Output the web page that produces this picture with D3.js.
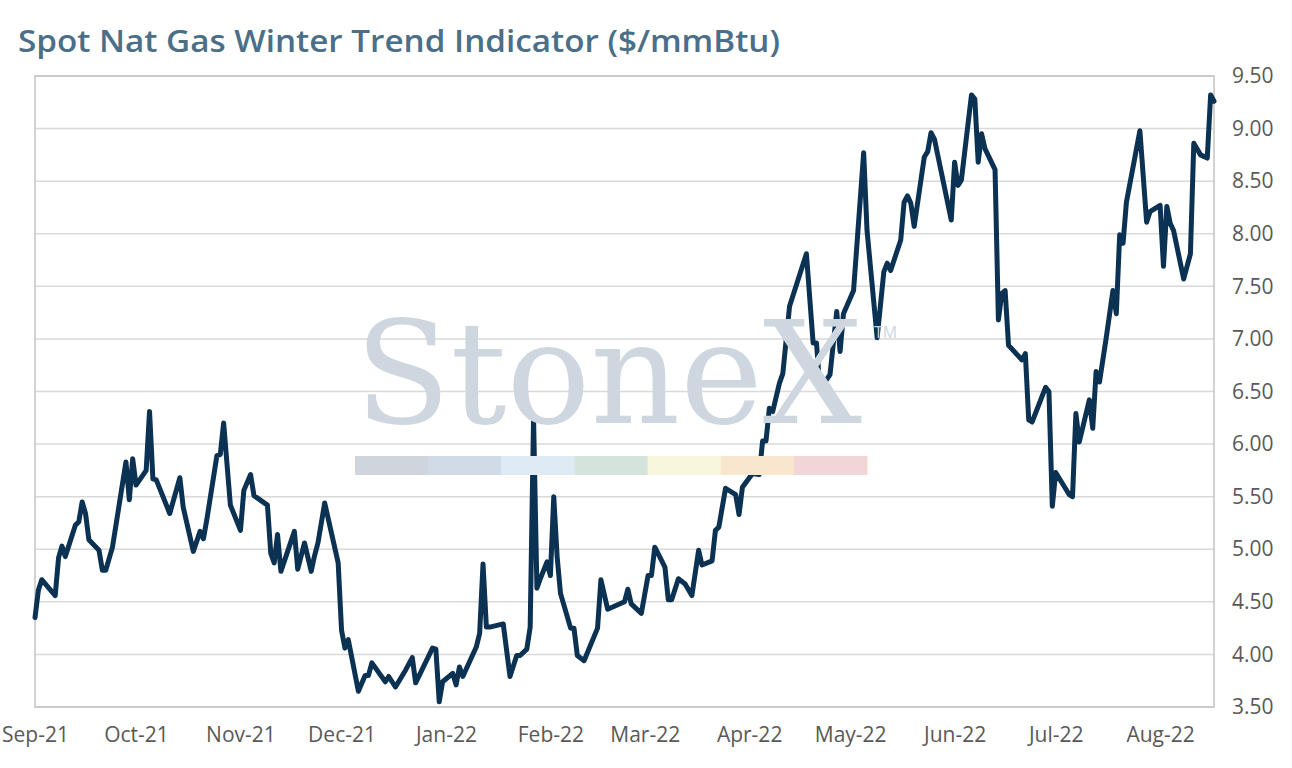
<!DOCTYPE html>
<html>
<head>
<meta charset="utf-8">
<script src="https://cdnjs.cloudflare.com/ajax/libs/d3/7.8.5/d3.min.js"></script>
<style>
  html, body { margin: 0; padding: 0; background: #fff; }
  svg { display: block; }
</style>
</head>
<body>
<div id="chart"></div>
<script>
'use strict';

// values
var dates = [
  '2021-09-01','2021-09-02','2021-09-03','2021-09-07','2021-09-08','2021-09-09','2021-09-10','2021-09-13',
  '2021-09-14','2021-09-15','2021-09-16','2021-09-17','2021-09-20','2021-09-21','2021-09-22','2021-09-24',
  '2021-09-28','2021-09-29','2021-09-30','2021-10-01','2021-10-04','2021-10-05','2021-10-06','2021-10-07',
  '2021-10-11','2021-10-14','2021-10-15','2021-10-18','2021-10-20','2021-10-21','2021-10-22','2021-10-25',
  '2021-10-26','2021-10-27','2021-10-29','2021-11-01','2021-11-02','2021-11-04','2021-11-05','2021-11-09',
  '2021-11-10','2021-11-11','2021-11-12','2021-11-13','2021-11-17','2021-11-18','2021-11-20','2021-11-22',
  '2021-11-23','2021-11-24','2021-11-26','2021-11-30','2021-12-01','2021-12-02','2021-12-03','2021-12-06',
  '2021-12-08','2021-12-09','2021-12-10','2021-12-14','2021-12-15','2021-12-17','2021-12-20','2021-12-22',
  '2021-12-23','2021-12-28','2021-12-29','2021-12-30','2021-12-31','2022-01-03','2022-01-04','2022-01-05',
  '2022-01-06','2022-01-10','2022-01-11','2022-01-12','2022-01-13','2022-01-14','2022-01-18','2022-01-20',
  '2022-01-22','2022-01-23','2022-01-25','2022-01-26','2022-01-27','2022-01-28','2022-01-29','2022-01-31',
  '2022-02-01','2022-02-02','2022-02-03','2022-02-04','2022-02-07','2022-02-08','2022-02-09','2022-02-11',
  '2022-02-15','2022-02-16','2022-02-18','2022-02-23','2022-02-24','2022-02-25','2022-02-28','2022-03-02',
  '2022-03-03','2022-03-04','2022-03-07','2022-03-08','2022-03-09','2022-03-11','2022-03-13','2022-03-15',
  '2022-03-17','2022-03-18','2022-03-21','2022-03-22','2022-03-23','2022-03-25','2022-03-28','2022-03-29',
  '2022-03-30','2022-04-02','2022-04-04','2022-04-05','2022-04-06','2022-04-07','2022-04-08','2022-04-10',
  '2022-04-11','2022-04-13','2022-04-18','2022-04-20','2022-04-21','2022-04-22','2022-04-25','2022-04-27',
  '2022-04-28','2022-04-29','2022-05-02','2022-05-05','2022-05-06','2022-05-09','2022-05-11','2022-05-12',
  '2022-05-13','2022-05-16','2022-05-17','2022-05-18','2022-05-19','2022-05-20','2022-05-23','2022-05-24',
  '2022-05-25','2022-05-26','2022-05-31','2022-06-01','2022-06-02','2022-06-03','2022-06-06','2022-06-07',
  '2022-06-08','2022-06-09','2022-06-10','2022-06-13','2022-06-14','2022-06-15','2022-06-16','2022-06-17',
  '2022-06-21','2022-06-22','2022-06-23','2022-06-24','2022-06-28','2022-06-29','2022-06-30','2022-07-01',
  '2022-07-05','2022-07-06','2022-07-07','2022-07-08','2022-07-11','2022-07-12','2022-07-13','2022-07-14',
  '2022-07-16','2022-07-18','2022-07-19','2022-07-20','2022-07-21','2022-07-22','2022-07-26','2022-07-28',
  '2022-07-29','2022-08-01','2022-08-02','2022-08-03','2022-08-04','2022-08-05','2022-08-08','2022-08-10',
  '2022-08-11','2022-08-13','2022-08-15','2022-08-16','2022-08-17'
];
var values = [
  4.35, 4.61, 4.71, 4.56, 4.92, 5.03, 4.93, 5.23,
  5.26, 5.45, 5.34, 5.09, 4.99, 4.80, 4.80, 5.02,
  5.83, 5.47, 5.86, 5.61, 5.75, 6.31, 5.67, 5.66,
  5.34, 5.68, 5.40, 4.98, 5.17, 5.10, 5.28, 5.89,
  5.90, 6.20, 5.42, 5.18, 5.56, 5.71, 5.51, 5.42,
  4.96, 4.87, 5.14, 4.79, 5.17, 4.81, 5.06, 4.79,
  4.94, 5.06, 5.44, 4.87, 4.23, 4.06, 4.14, 3.65,
  3.80, 3.80, 3.92, 3.74, 3.79, 3.69, 3.85, 3.97,
  3.73, 4.06, 4.05, 3.55, 3.74, 3.82, 3.71, 3.88,
  3.79, 4.07, 4.20, 4.86, 4.26, 4.26, 4.29, 3.79,
  3.99, 3.99, 4.05, 4.26, 6.25, 4.63, 4.72, 4.88,
  4.75, 5.50, 4.93, 4.58, 4.25, 4.25, 3.99, 3.94,
  4.25, 4.71, 4.43, 4.50, 4.62, 4.48, 4.39, 4.75,
  4.75, 5.02, 4.83, 4.52, 4.52, 4.72, 4.67, 4.56,
  4.99, 4.85, 4.89, 5.18, 5.21, 5.58, 5.52, 5.33,
  5.59, 5.72, 5.71, 6.03, 6.03, 6.34, 6.31, 6.58,
  6.67, 7.31, 7.81, 6.96, 6.96, 6.52, 6.66, 7.26,
  6.88, 7.24, 7.46, 8.77, 8.03, 7.01, 7.64, 7.72,
  7.65, 7.94, 8.30, 8.36, 8.29, 8.07, 8.73, 8.78,
  8.96, 8.90, 8.13, 8.68, 8.46, 8.51, 9.32, 9.28,
  8.68, 8.95, 8.81, 8.61, 7.18, 7.43, 7.46, 6.94,
  6.80, 6.86, 6.23, 6.21, 6.54, 6.50, 5.41, 5.73,
  5.52, 5.50, 6.29, 6.02, 6.42, 6.15, 6.69, 6.59,
  7.01, 7.46, 7.24, 7.99, 7.91, 8.30, 8.98, 8.11,
  8.21, 8.27, 7.69, 8.26, 8.10, 8.03, 7.57, 7.81,
  8.86, 8.75, 8.72, 9.32, 9.26
];
var yTicks = [3.5, 4, 4.5, 5, 5.5, 6, 6.5, 7, 7.5, 8, 8.5, 9, 9.5];
var monthTicks = ['2021-09-01','2021-10-01','2021-11-01','2021-12-01','2022-01-01','2022-02-01',
  '2022-03-01','2022-04-01','2022-05-01','2022-06-01','2022-07-01','2022-08-01'];
var xDomain = ['2021-09-01', '2022-08-17'];
var title = 'Spot Nat Gas Winter Trend Indicator ($/mmBtu)';
var stripColors = ['#cfd5dd','#d0dbe7','#deebf4','#d4e4dc','#f8f6dd','#f9e6cf','#f2d5d7'];

var W = 1292, H = 768;
var margin = {top: 76, right: 78, bottom: 61, left: 35};

var parse = d3.timeParse('%Y-%m-%d'),
    svg, gPlot, x, y, w, h;

function setup(){
    w = W - margin.left - margin.right;
    h = H - margin.top - margin.bottom;
    svg = d3.select('#chart').append('svg')
        .attr('width', W)
        .attr('height', H);
    x = d3.scaleTime().domain(xDomain.map(parse)).range([0, w]);
    y = d3.scaleLinear().domain([3.5, 9.5]).range([h, 0]);
    gPlot = svg.append('g').attr('transform', 'translate(' + margin.left + ',' + margin.top + ')');
    draw();
}

function draw(){
    var series, line, strip, stripW;

    svg.append('text')
        .attr('x', 18)
        .attr('y', 52)
        .attr('textLength', 762)
        .attr('lengthAdjust', 'spacingAndGlyphs')
        .style('font-family', '"Open Sans", sans-serif')
        .style('font-weight', 600)
        .style('font-size', '31px')
        .style('fill', '#4b6f88')
        .text(title);

    // watermark sits under the grid
    var wm = svg.append('g').attr('class', 'watermark');
    wm.append('text')
        .attr('x', 355)
        .attr('y', 423)
        .attr('textLength', 507)
        .attr('lengthAdjust', 'spacingAndGlyphs')
        .style('font-family', '"DejaVu Serif", "Liberation Serif", serif')
        .style('font-size', '142px')
        .style('fill', '#ced6df')
        .text('StoneX');
    wm.append('text')
        .attr('x', 874)
        .attr('y', 338)
        .style('font-family', '"Open Sans", sans-serif')
        .style('font-size', '16px')
        .style('fill', '#ced6df')
        .text('TM');
    stripW = (867 - 355) / stripColors.length;
    strip = wm.selectAll('rect').data(stripColors);
    strip.enter().append('rect')
        .attr('x', function(d, i){ return 355 + i * stripW; })
        .attr('y', 456)
        .attr('width', stripW + 0.5)
        .attr('height', 19)
        .style('fill', function(d){ return d; });

    gPlot.selectAll('.grid').data(yTicks)
        .enter().append('line')
        .attr('class', 'grid')
        .attr('x1', 0)
        .attr('x2', w)
        .attr('y1', function(d){ return y(d); })
        .attr('y2', function(d){ return y(d); })
        .style('stroke', '#d9d9d9')
        .style('stroke-width', 1.5);

    gPlot.append('rect')
        .attr('width', w)
        .attr('height', h)
        .style('fill', 'none')
        .style('stroke', '#c4c4c4')
        .style('stroke-width', 1.5);

    series = dates.map(function(d, i){ return {date: parse(d), value: values[i]}; });
    line = d3.line()
        .x(function(d){ return x(d.date); })
        .y(function(d){ return y(d.value); });
    gPlot.append('path')
        .datum(series)
        .attr('d', line)
        .style('fill', 'none')
        .style('stroke', '#0b3153')
        .style('stroke-width', 5)
        .style('stroke-linejoin', 'round')
        .style('stroke-linecap', 'round');

    var yAxis = gPlot.append('g')
        .attr('transform', 'translate(' + w + ',0)')
        .call(d3.axisRight(y).tickValues(yTicks).tickFormat(d3.format('.2f')).tickSize(0).tickPadding(18));
    var xAxis = gPlot.append('g')
        .attr('transform', 'translate(0,' + h + ')')
        .call(d3.axisBottom(x).tickValues(monthTicks.map(parse)).tickFormat(d3.timeFormat('%b-%y')).tickSize(0).tickPadding(20));

    [yAxis, xAxis].forEach(function(g){
        g.select('.domain').remove();
        g.selectAll('text')
            .style('font-family', '"Open Sans", sans-serif')
            .style('font-size', '21px')
            .style('fill', '#595959');
    });
}

setup();
</script>
</body>
</html>
